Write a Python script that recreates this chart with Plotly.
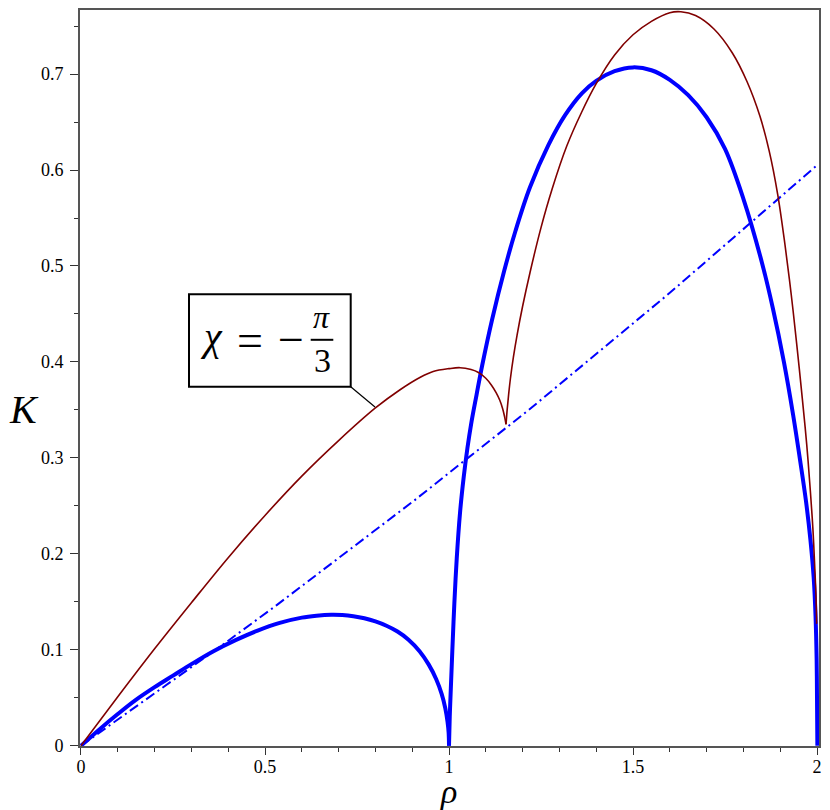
import plotly.graph_objects as go

# values
# thin dark red curve, split at the cusp near rho = 1.155
red_rho_a = [0, 0.1, 0.2, 0.3, 0.4, 0.5, 0.6, 0.7, 0.8, 0.867, 0.922, 0.957, 1.0, 1.03,
             1.06, 1.08, 1.10, 1.115, 1.128, 1.138, 1.146, 1.151, 1.155]
red_K_a = [0, 0.051, 0.101, 0.149, 0.196, 0.240, 0.281, 0.318, 0.352, 0.371, 0.384, 0.390,
           0.393, 0.394, 0.392, 0.389, 0.383, 0.376, 0.368, 0.360, 0.351, 0.343, 0.335]
red_rho_b = [1.155, 1.158, 1.162, 1.167, 1.175, 1.185, 1.2, 1.22, 1.25, 1.28, 1.32, 1.36,
             1.40, 1.45, 1.5, 1.55, 1.6, 1.63, 1.67, 1.72, 1.77, 1.81, 1.845, 1.87, 1.893,
             1.913, 1.93, 1.945, 1.96, 1.972, 1.982, 1.989, 1.994, 1.997, 1.999]
red_K_b = [0.335, 0.350, 0.366, 0.383, 0.405, 0.428, 0.458, 0.493, 0.540, 0.580, 0.625,
           0.660, 0.690, 0.720, 0.741, 0.755, 0.764, 0.765, 0.761, 0.747, 0.722, 0.692, 0.656,
           0.620, 0.575, 0.522, 0.470, 0.418, 0.362, 0.314, 0.265, 0.225, 0.185, 0.158, 0.127]

# thick blue curve, two arches meeting at rho = 1
blue1_rho = [0, 0.05, 0.1, 0.15, 0.2, 0.25, 0.3, 0.36, 0.42, 0.48, 0.54, 0.6, 0.64, 0.68,
             0.71, 0.74, 0.77, 0.80, 0.83, 0.86, 0.89, 0.92, 0.945, 0.965, 0.98, 0.99, 0.996,
             0.999, 1.0]
blue1_K = [0, 0.017, 0.033, 0.048, 0.061, 0.073, 0.085, 0.0985, 0.110, 0.120, 0.128, 0.1335,
           0.1355, 0.1365, 0.1362, 0.1350, 0.1328, 0.1295, 0.1250, 0.1190, 0.1105, 0.0985,
           0.0845, 0.0695, 0.054, 0.039, 0.025, 0.0135, 0]
blue2_rho = [1.0, 1.002, 1.005, 1.009, 1.0145, 1.021, 1.030, 1.04, 1.05, 1.06, 1.075, 1.09,
             1.117, 1.15, 1.181, 1.22, 1.27, 1.315, 1.361, 1.40, 1.45, 1.5, 1.55, 1.60, 1.65,
             1.70, 1.75, 1.80, 1.85, 1.88, 1.91, 1.935, 1.955, 1.97, 1.982, 1.991, 1.996,
             1.999, 2.0, 2.001]
blue2_K = [0, 0.030, 0.060, 0.099, 0.148, 0.195, 0.243, 0.280, 0.310, 0.335, 0.366, 0.396,
           0.444, 0.495, 0.537, 0.582, 0.626, 0.657, 0.680, 0.693, 0.703, 0.707, 0.704, 0.694,
           0.678, 0.655, 0.622, 0.570, 0.504, 0.456, 0.400, 0.345, 0.295, 0.255, 0.215, 0.175,
           0.135, 0.090, 0.050, 0]

# blue dash-dot line
dd_rho = [0, 0.37, 0.53, 0.907, 1.045, 1.155, 1.217, 1.6, 2.0]
dd_K = [0, 0.101, 0.146, 0.256, 0.298, 0.331, 0.350, 0.472, 0.605]

x_ticks = [0, 0.5, 1, 1.5, 2]
x_ticktext = ["0", "0.5", "1", "1.5", "2"]
y_ticks = [0, 0.1, 0.2, 0.3, 0.4, 0.5, 0.6, 0.7]
y_ticktext = ["0", "0.1", "0.2", "0.3", "0.4", "0.5", "0.6", "0.7"]

RED = "#800000"
BLUE = "#0000ff"
SERIF = "Liberation Serif, DejaVu Serif, serif"

fig = go.Figure()

spline = dict(shape="spline", smoothing=1.0)
fig.add_trace(go.Scatter(x=blue1_rho, y=blue1_K, mode="lines",
                         line=dict(color=BLUE, width=4, **spline)))
fig.add_trace(go.Scatter(x=blue2_rho, y=blue2_K, mode="lines",
                         line=dict(color=BLUE, width=4, **spline)))
fig.add_trace(go.Scatter(x=dd_rho, y=dd_K, mode="lines",
                         line=dict(color=BLUE, width=2, dash="10px,4px,2px,4px")))
fig.add_trace(go.Scatter(x=red_rho_a, y=red_K_a, mode="lines",
                         line=dict(color=RED, width=1.6, **spline)))
fig.add_trace(go.Scatter(x=red_rho_b, y=red_K_b, mode="lines",
                         line=dict(color=RED, width=1.6, **spline)))

axis_common = dict(
    showgrid=False, zeroline=False, showline=True, mirror=True,
    linecolor="#555555", linewidth=2, ticks="outside", tickcolor="#333333",
    tickfont=dict(family=SERIF, size=18, color="black"),
)

fig.update_xaxes(range=[-0.0027, 2.0054], tickvals=x_ticks, ticktext=x_ticktext,
                 ticklen=7, ticklabelstandoff=-4,
                 minor=dict(dtick=0.1, tick0=0, ticks="outside", ticklen=4, tickcolor="#333333"),
                 **axis_common)
fig.update_yaxes(range=[-0.0003, 0.7668], tickvals=y_ticks, ticktext=y_ticktext,
                 ticklen=8, ticklabelstandoff=3,
                 minor=dict(dtick=0.05, tick0=0, ticks="outside", ticklen=4, tickcolor="#333333"),
                 **axis_common)


# page pixel position in the reference -> paper coordinates
# (plot area spans x 80..819, y 8..746 once the page's 8px body margin is added)
def pp(x, y):
    return (x - 80) / 739, (746 - y) / 738


bx0, by0 = pp(189, 385.7)
bx1, by1 = pp(350.7, 293)
tip_x, tip_y = pp(375, 406)
fx0, fy = pp(310.7, 338.7)
fx1, _ = pp(333.3, 338.7)

# label box with pointer to the red curve
shapes = [
    dict(type="rect", xref="paper", yref="paper", x0=bx0, x1=bx1, y0=by0, y1=by1,
         line=dict(color="black", width=2), fillcolor="white"),
    dict(type="line", xref="paper", yref="paper", x0=bx1, y0=by0, x1=tip_x, y1=tip_y,
         line=dict(color="black", width=1.2)),
    dict(type="line", xref="paper", yref="paper", x0=fx0, x1=fx1, y0=fy, y1=fy,
         line=dict(color="black", width=2)),
]


def label(text, px, py, size, italic=False):
    if italic:
        text = "<i>" + text + "</i>"
    x, y = pp(px, py)
    return dict(text=text, x=x, y=y, xref="paper", yref="paper", showarrow=False,
                xanchor="center", yanchor="middle",
                font=dict(family=SERIF, size=size, color="black"))


annotations = [
    label("χ", 211, 335, 40, italic=True),
    label("=", 249.7, 339.2, 46),
    label("−", 290.5, 338.7, 46),
    label("π", 321.7, 316, 32, italic=True),
    label("3", 322.5, 359, 34),
    label("K", 24, 409, 40, italic=True),
    label("ρ", 448, 792, 34, italic=True),
]

fig.update_layout(
    width=822, height=802,
    margin=dict(l=72, r=11, t=0, b=64),
    paper_bgcolor="white", plot_bgcolor="white",
    showlegend=False, hovermode=False,
    shapes=shapes, annotations=annotations,
)

fig.write_html("out.html")
